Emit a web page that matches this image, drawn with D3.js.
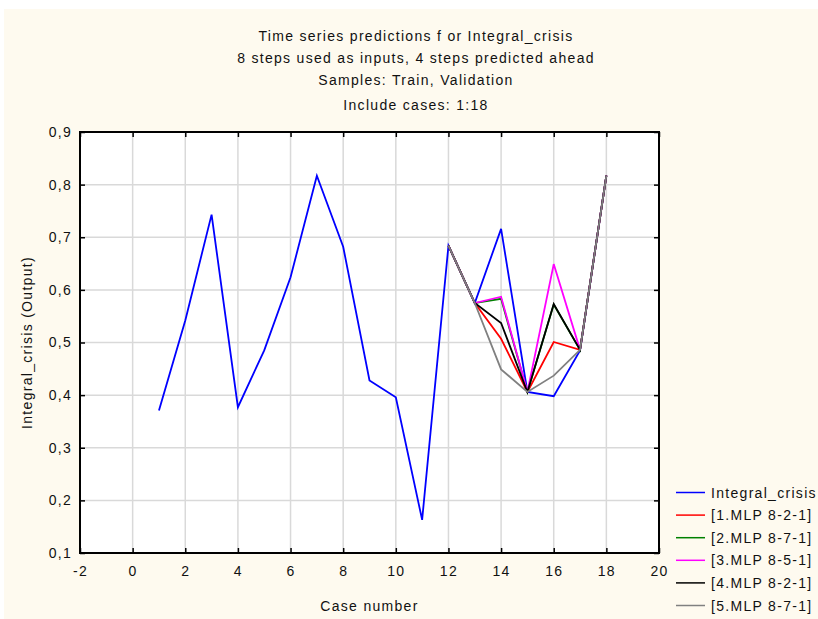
<!DOCTYPE html>
<html lang="en">
<head>
<meta charset="UTF-8">
<title>Time series predictions</title>
<script src="https://d3js.org/d3.v7.min.js"></script>
<style>
    body { margin: 0; background: #fff; }
    text { font-family: "Liberation Sans", Arial, sans-serif; font-size: 14px; fill: #111; letter-spacing: 1.3px; }
</style>
</head>
<body>
<div id="chart"></div>
<script>
    const width = 818;
    const height = 619;

    // data
    const cases = [1, 2, 3, 4, 5, 6, 7, 8, 9, 10, 11, 12, 13, 14, 15, 16, 17, 18];
    const integralCrisis = [0.371, 0.542, 0.743, 0.377, 0.485, 0.624, 0.817, 0.682, 0.428, 0.396, 0.163, 0.684, 0.575, 0.716, 0.406, 0.398, 0.485, 0.817];

    const predCases = [12, 13, 14, 15, 16, 17, 18];
    const mlp1 = [0.684, 0.575, 0.507, 0.406, 0.501, 0.486, 0.817];
    const mlp2 = [0.684, 0.575, 0.583, 0.406, 0.572, 0.486, 0.817];
    const mlp3 = [0.684, 0.575, 0.587, 0.406, 0.649, 0.486, 0.817];
    const mlp4 = [0.684, 0.575, 0.537, 0.406, 0.573, 0.486, 0.817];
    const mlp5 = [0.684, 0.575, 0.449, 0.406, 0.437, 0.486, 0.817];

    const seriesNames = ["Integral_crisis", "[1.MLP 8-2-1]", "[2.MLP 8-7-1]", "[3.MLP 8-5-1]", "[4.MLP 8-2-1]", "[5.MLP 8-7-1]"];
    const seriesColors = ["#0000ff", "#ff0000", "#008000", "#ff00ff", "#000000", "#808080"];

    const xTicks = [-2, 0, 2, 4, 6, 8, 10, 12, 14, 16, 18, 20];
    const yTicks = [0.1, 0.2, 0.3, 0.4, 0.5, 0.6, 0.7, 0.8, 0.9];

    const titleLines = [
        "Time series predictions f or Integral_crisis",
        "8 steps used as inputs, 4 steps predicted ahead",
        "Samples: Train, Validation",
        "Include cases: 1:18"
    ];

    const plot = { left: 80, right: 659, top: 132, bottom: 553 };

    const x = d3.scaleLinear().domain([-2, 20]).range([plot.left, plot.right]);
    const y = d3.scaleLinear().domain([0.1, 0.9]).range([plot.bottom, plot.top]);

    const svg = d3.select("#chart")
        .append("svg")
        .attr("width", width)
        .attr("height", height);

    // cream background
    svg.append("rect")
        .attr("x", 4).attr("y", 9)
        .attr("width", width - 4).attr("height", height - 9)
        .attr("fill", "#fefaef");

    svg.append("rect")
        .attr("x", plot.left).attr("y", plot.top)
        .attr("width", plot.right - plot.left).attr("height", plot.bottom - plot.top)
        .attr("fill", "#fff");

    // grid
    svg.append("g")
        .selectAll("line")
        .data(xTicks.slice(1, -1))
        .enter().append("line")
        .attr("x1", d => x(d)).attr("x2", d => x(d))
        .attr("y1", plot.top).attr("y2", plot.bottom)
        .attr("stroke", "#d9d9d9").attr("stroke-width", 1.5);

    svg.append("g")
        .selectAll("line")
        .data(yTicks.slice(1, -1))
        .enter().append("line")
        .attr("x1", plot.left).attr("x2", plot.right)
        .attr("y1", d => y(d)).attr("y2", d => y(d))
        .attr("stroke", "#d9d9d9").attr("stroke-width", 1.5);

    // axes with inward ticks
    const fmtY = d => d3.format(".1f")(d).replace(".", ",");
    const fmtX = d => String(d);

    svg.append("g")
        .attr("transform", `translate(0,${plot.bottom})`)
        .call(d3.axisBottom(x).tickValues(xTicks).tickFormat(fmtX).tickSize(-5).tickPadding(13));
    svg.append("g")
        .attr("transform", `translate(${plot.left},0)`)
        .call(d3.axisLeft(y).tickValues(yTicks).tickFormat(fmtY).tickSize(-5).tickPadding(8));
    svg.append("g")
        .attr("transform", `translate(0,${plot.top})`)
        .call(d3.axisTop(x).tickValues(xTicks).tickSize(-5).tickFormat(""));
    svg.append("g")
        .attr("transform", `translate(${plot.right},0)`)
        .call(d3.axisRight(y).tickValues(yTicks).tickSize(-5).tickFormat(""));

    svg.selectAll(".domain").remove();
    svg.selectAll(".tick line").attr("stroke", "#000").attr("stroke-width", 1.5);
    svg.selectAll(".tick text").style("font-size", "14px").attr("fill", "#111");

    svg.append("rect")
        .attr("x", plot.left).attr("y", plot.top)
        .attr("width", plot.right - plot.left).attr("height", plot.bottom - plot.top)
        .attr("fill", "none").attr("stroke", "#000").attr("stroke-width", 2);

    // lines
    const line = d3.line().x(d => x(d[0])).y(d => y(d[1]));
    const allSeries = [
        cases.map((c, i) => [c, integralCrisis[i]]),
        predCases.map((c, i) => [c, mlp1[i]]),
        predCases.map((c, i) => [c, mlp2[i]]),
        predCases.map((c, i) => [c, mlp3[i]]),
        predCases.map((c, i) => [c, mlp4[i]]),
        predCases.map((c, i) => [c, mlp5[i]])
    ];

    svg.append("g")
        .selectAll("path")
        .data(allSeries)
        .enter().append("path")
        .attr("d", line)
        .attr("fill", "none")
        .attr("stroke", (d, i) => seriesColors[i])
        .attr("stroke-width", 1.8);

    // titles
    svg.append("g")
        .selectAll("text")
        .data(titleLines)
        .enter().append("text")
        .attr("x", 416)
        .attr("y", (d, i) => [41, 63, 85, 110][i])
        .attr("text-anchor", "middle")
        .text(d => d);

    svg.append("text")
        .attr("x", (plot.left + plot.right) / 2)
        .attr("y", 611)
        .attr("text-anchor", "middle")
        .text("Case number");

    svg.append("text")
        .attr("transform", `translate(32,${(plot.top + plot.bottom) / 2}) rotate(-90)`)
        .attr("text-anchor", "middle")
        .text("Integral_crisis (Output)");

    // legend
    const legend = svg.append("g");
    seriesNames.forEach((name, i) => {
        const ly = 492.5 + i * 22.6;
        legend.append("line")
            .attr("x1", 676).attr("x2", 705)
            .attr("y1", ly).attr("y2", ly)
            .attr("stroke", seriesColors[i]).attr("stroke-width", 1.5);
        legend.append("text")
            .attr("x", 711).attr("y", ly + 5)
            .text(name);
    });
</script>
</body>
</html>
